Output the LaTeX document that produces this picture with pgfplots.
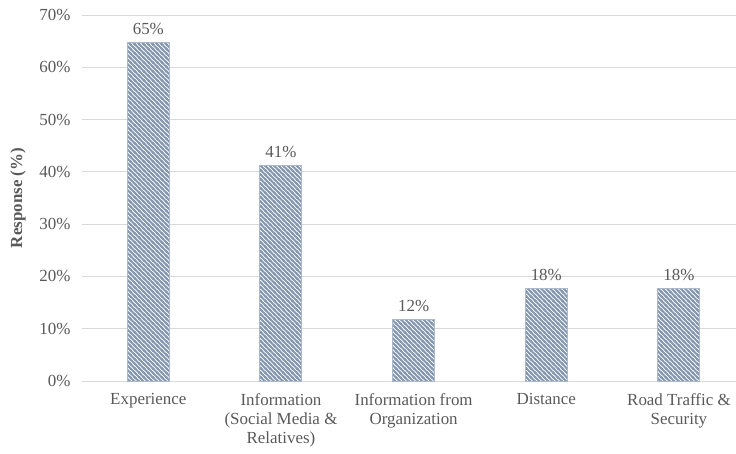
\documentclass[border=0pt]{standalone}
\usepackage{pgfplots}
\pgfplotsset{compat=1.18}
\usepackage{fontspec}
\setmainfont{Liberation Serif}
\usetikzlibrary{patterns}

\definecolor{txt}{HTML}{595959}
\definecolor{gridc}{HTML}{D9D9D9}
\definecolor{stripe}{HTML}{8497B0}
\definecolor{barborder}{HTML}{ADB9CA}

% wide downward diagonal hatch
\pgfdeclarepatternformonly{wdiag}{\pgfqpoint{-1bp}{-1bp}}{\pgfqpoint{5.5bp}{5.5bp}}{\pgfqpoint{4.5bp}{4.5bp}}{%
  \pgfsetlinewidth{1.9bp}%
  \pgfpathmoveto{\pgfqpoint{0bp}{4.5bp}}\pgfpathlineto{\pgfqpoint{4.5bp}{0bp}}%
  \pgfpathmoveto{\pgfqpoint{-1bp}{1bp}}\pgfpathlineto{\pgfqpoint{1bp}{-1bp}}%
  \pgfpathmoveto{\pgfqpoint{3.5bp}{5.5bp}}\pgfpathlineto{\pgfqpoint{5.5bp}{3.5bp}}%
  \pgfusepath{stroke}}

\newcommand{\lblfont}{\fontsize{17}{19}\selectfont}

\begin{document}
\begin{tikzpicture}
\begin{axis}[
  scale only axis,
  width=654bp, height=366bp,
  xmin=-0.5, xmax=4.43,
  ymin=0, ymax=70,
  ytick={0,10,...,70},
  xtick={0,1,2,3,4},
  xticklabels={Experience,{Information\\(Social Media \&\\Relatives)},{Information from\\Organization},Distance,{Road Traffic \&\\Security}},
  xticklabel style={align=center, text=txt, font=\lblfont, yshift=-5bp},
  yticklabel={\pgfmathprintnumber{\tick}\%},
  yticklabel style={text=txt, font=\lblfont, xshift=-8bp},
  /pgf/number format/assume math mode=true,
  ymajorgrids, xmajorgrids=false,
  grid style={draw=gridc, line width=1bp},
  axis line style={draw=none},
  tick style={draw=none},
  ylabel={\textbf{Response (\%)}},
  ylabel style={text=txt, font=\lblfont, at={(axis description cs:0,0.5)}, anchor=center, yshift=64bp},
  ybar, bar width=42bp,
  nodes near coords={\pgfmathprintnumber[fixed,precision=0]{\pgfplotspointmeta}\%},
  nodes near coords style={text=txt, font=\lblfont, yshift=4bp},
  clip=false,
]
\addplot[draw=barborder, line width=1bp, fill=white, postaction={pattern=wdiag, pattern color=stripe}]
  coordinates {(0,64.7) (1,41.2) (2,11.8) (3,17.6) (4,17.6)};
\end{axis}
\pgfresetboundingbox
\path[use as bounding box] ([xshift=-82bp,yshift=-73bp]current axis.south west) rectangle ([yshift=15bp]current axis.north east);
\end{tikzpicture}
\end{document}
